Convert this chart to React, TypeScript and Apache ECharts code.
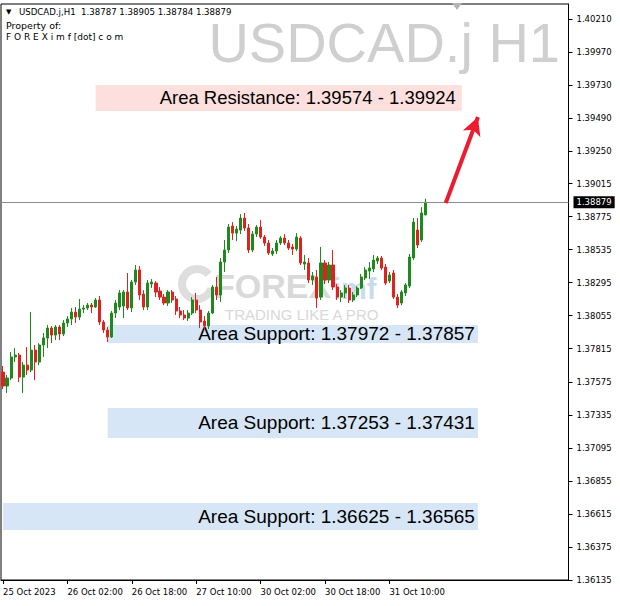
import React, { useEffect, useRef } from "react";
import * as echarts from "echarts";

// ---- data (H1 candles, USDCAD.j) ----
const opens = [
  1.37645, 1.37544, 1.37602, 1.37755, 1.37769, 1.37609, 1.37696, 1.37660, 1.37805, 1.37718,
  1.37842, 1.37893, 1.37965, 1.37914, 1.37973, 1.37922, 1.38002, 1.38031, 1.38081, 1.38045,
  1.38103, 1.38111, 1.38132, 1.38118, 1.38169, 1.38009, 1.37951, 1.37900, 1.38074, 1.38118,
  1.38125, 1.38227, 1.38111, 1.38299, 1.38387, 1.38212, 1.38118, 1.38285, 1.38292, 1.38234,
  1.38190, 1.38147, 1.38227, 1.38176, 1.38089, 1.38060, 1.38038, 1.38074, 1.38169, 1.38096,
  1.38016, 1.37980, 1.38074, 1.38263, 1.38205, 1.38445, 1.38532, 1.38706, 1.38655, 1.38677,
  1.38764, 1.38692, 1.38532, 1.38648, 1.38699, 1.38626, 1.38583, 1.38503, 1.38525, 1.38583,
  1.38619, 1.38583, 1.38554, 1.38539, 1.38619, 1.38430, 1.38438, 1.38314, 1.38336, 1.38190,
  1.38438, 1.38314, 1.38423, 1.38263, 1.38190, 1.38220, 1.38256, 1.38169, 1.38205, 1.38256,
  1.38329, 1.38379, 1.38394, 1.38452, 1.38474, 1.38408, 1.38307, 1.38365, 1.38190, 1.38147,
  1.38220, 1.38270, 1.38474, 1.38677, 1.38605, 1.38787,
];
const closes = [
  1.37544, 1.37602, 1.37755, 1.37769, 1.37609, 1.37696, 1.37660, 1.37805, 1.37718, 1.37842,
  1.37893, 1.37965, 1.37914, 1.37973, 1.37922, 1.38002, 1.38031, 1.38081, 1.38045, 1.38103,
  1.38111, 1.38132, 1.38118, 1.38169, 1.38009, 1.37951, 1.37900, 1.38074, 1.38147, 1.38220,
  1.38227, 1.38111, 1.38299, 1.38387, 1.38205, 1.38118, 1.38292, 1.38299, 1.38227, 1.38190,
  1.38147, 1.38227, 1.38169, 1.38089, 1.38060, 1.38038, 1.38074, 1.38169, 1.38096, 1.38009,
  1.37980, 1.38074, 1.38263, 1.38205, 1.38445, 1.38532, 1.38699, 1.38655, 1.38684, 1.38764,
  1.38692, 1.38532, 1.38648, 1.38699, 1.38626, 1.38583, 1.38510, 1.38525, 1.38583, 1.38619,
  1.38583, 1.38546, 1.38539, 1.38626, 1.38438, 1.38445, 1.38314, 1.38343, 1.38183, 1.38438,
  1.38314, 1.38423, 1.38263, 1.38190, 1.38220, 1.38256, 1.38169, 1.38205, 1.38256, 1.38336,
  1.38387, 1.38401, 1.38459, 1.38474, 1.38401, 1.38292, 1.38350, 1.38190, 1.38132, 1.38227,
  1.38278, 1.38481, 1.38735, 1.38568, 1.38801, 1.38879,
];
const lows = [
  1.37522, 1.37493, 1.37587, 1.37718, 1.37573, 1.37493, 1.37624, 1.37645, 1.37587, 1.37696,
  1.37755, 1.37820, 1.37856, 1.37878, 1.37878, 1.37907, 1.37973, 1.37987, 1.38002, 1.38023,
  1.38074, 1.38096, 1.38074, 1.38111, 1.37987, 1.37929, 1.37864, 1.37893, 1.38038, 1.38096,
  1.38038, 1.38096, 1.38081, 1.38278, 1.38169, 1.38096, 1.38096, 1.38256, 1.38190, 1.38169,
  1.38132, 1.38125, 1.38147, 1.38060, 1.38038, 1.38023, 1.38016, 1.38060, 1.38074, 1.37965,
  1.37958, 1.37958, 1.38067, 1.38169, 1.38154, 1.38372, 1.38510, 1.38605, 1.38597, 1.38648,
  1.38670, 1.38510, 1.38517, 1.38626, 1.38612, 1.38561, 1.38496, 1.38488, 1.38503, 1.38568,
  1.38568, 1.38532, 1.38496, 1.38525, 1.38423, 1.38387, 1.38292, 1.38278, 1.38111, 1.38169,
  1.38285, 1.38292, 1.38241, 1.38169, 1.38154, 1.38183, 1.38147, 1.38154, 1.38190, 1.38249,
  1.38314, 1.38321, 1.38372, 1.38430, 1.38387, 1.38278, 1.38292, 1.38176, 1.38111, 1.38132,
  1.38198, 1.38256, 1.38459, 1.38546, 1.38590, 1.38784,
];
const highs = [
  1.37689, 1.37624, 1.37791, 1.37820, 1.37784, 1.37718, 1.37827, 1.38081, 1.37842, 1.37856,
  1.37929, 1.37987, 1.37980, 1.37987, 1.37987, 1.38023, 1.38052, 1.38111, 1.38118, 1.38176,
  1.38132, 1.38147, 1.38147, 1.38183, 1.38198, 1.38023, 1.37973, 1.38089, 1.38169, 1.38241,
  1.38241, 1.38365, 1.38314, 1.38423, 1.38416, 1.38241, 1.38314, 1.38321, 1.38307, 1.38263,
  1.38212, 1.38241, 1.38241, 1.38198, 1.38118, 1.38096, 1.38096, 1.38190, 1.38220, 1.38132,
  1.38052, 1.38089, 1.38278, 1.38336, 1.38474, 1.38605, 1.38721, 1.38735, 1.38706, 1.38793,
  1.38801, 1.38721, 1.38670, 1.38713, 1.38750, 1.38641, 1.38605, 1.38546, 1.38605, 1.38633,
  1.38648, 1.38605, 1.38576, 1.38655, 1.38633, 1.38496, 1.38474, 1.38372, 1.38387, 1.38554,
  1.38459, 1.38445, 1.38532, 1.38285, 1.38241, 1.38278, 1.38278, 1.38227, 1.38270, 1.38358,
  1.38408, 1.38445, 1.38496, 1.38488, 1.38488, 1.38430, 1.38372, 1.38387, 1.38212, 1.38241,
  1.38292, 1.38503, 1.38764, 1.38764, 1.38844, 1.38905,
];

const yTickValues = [
  1.4021, 1.3997, 1.3973, 1.3949, 1.3925, 1.39015, 1.38775, 1.38535, 1.38295,
  1.38055, 1.37815, 1.37575, 1.37335, 1.37095, 1.36855, 1.36615, 1.36375, 1.36135,
];
const xTickIndex = [0, 16, 32, 48, 64, 80, 96];
const xTickLabels = [
  "25 Oct 2023", "26 Oct 02:00", "26 Oct 18:00", "27 Oct 10:00",
  "30 Oct 02:00", "30 Oct 18:00", "31 Oct 10:00",
];
const lastPrice = 1.38879;
const headerText = "USDCAD.j,H1  1.38787 1.38905 1.38784 1.38879";
const symbolTitle = "USDCAD.j H1";

// zones: label, start/end bar index, upper/lower price edge of the drawn box
const zoneLabels = [
  "Area Resistance: 1.39574 - 1.39924",
  "Area Support: 1.37972 - 1.37857",
  "Area Support: 1.37253 - 1.37431",
  "Area Support: 1.36625 - 1.36565",
];
const zoneStart = [23, 26, 26, 0];
const zoneEnd = [114, 118, 118, 118];
const zoneTop = [1.39731, 1.37988, 1.37385, 1.36695];
const zoneBottom = [1.39542, 1.37857, 1.37167, 1.36499];
const zoneKind = ["resistance", "support", "support", "support"];

// arrow (bar index, price)
const arrowFrom = [110, 1.38874];
const arrowTo = [118, 1.39498];

const SLOTS = 141;
const MONTHS = ["Jan", "Feb", "Mar", "Apr", "May", "Jun", "Jul", "Aug", "Sep", "Oct", "Nov", "Dec"];

function buildTimes(n: number): string[] {
  const out: string[] = [];
  let t = Date.UTC(2023, 9, 25, 10);
  while (out.length < n) {
    const d = new Date(t);
    const wd = d.getUTCDay();
    if (wd !== 0 && wd !== 6) {
      out.push(
        `${d.getUTCDate()} ${MONTHS[d.getUTCMonth()]} ${String(d.getUTCHours()).padStart(2, "0")}:00`
      );
    }
    t += 3600000;
  }
  return out;
}

const FONT = "DejaVu Sans";
const GREEN = "#1e8a1e";
const RED = "#e0221f";

export default function App() {
  const ref = useRef<HTMLDivElement>(null);
  useEffect(() => {
    if (!ref.current) return;
    const chart = echarts.init(ref.current, undefined, { renderer: "svg" });
    const times = buildTimes(SLOTS);
    const data = opens.map((o, i) => [o, closes[i], lows[i], highs[i]]);

    const areas = zoneLabels.map((lab, i) => {
      const isRes = zoneKind[i] === "resistance";
      return [
        {
          xAxis: zoneStart[i],
          yAxis: zoneTop[i],
          itemStyle: { color: isRes ? "#fde0dd" : "#d6e6f6" },
          label: {
            show: true,
            position: "insideRight",
            formatter: lab,
            color: "#000",
            fontSize: isRes ? 18.5 : 19,
            fontFamily: "Liberation Sans",
            distance: isRes ? 6 : 3,
          },
        },
        { xAxis: zoneEnd[i], yAxis: zoneBottom[i] },
      ];
    });

    const option: any = {
      animation: false,
      backgroundColor: "#ffffff",
      grid: {
        left: 1,
        top: 4,
        width: 567.5,
        height: 576,
        show: true,
        borderColor: "#000",
        borderWidth: 1,
        backgroundColor: "transparent",
      },
      xAxis: {
        type: "category",
        data: times,
        boundaryGap: true,
        axisLine: { show: true, lineStyle: { color: "#000", width: 1 } },
        axisTick: {
          show: true,
          alignWithLabel: true,
          interval: (i: number) => xTickIndex.includes(i),
          length: 4,
          lineStyle: { color: "#000" },
        },
        axisLabel: {
          interval: (i: number) => xTickIndex.includes(i),
          formatter: (_v: string, i: number) => {
            const k = xTickIndex.indexOf(i);
            return k >= 0 ? xTickLabels[k] : "";
          },
          align: "left",
          margin: 7,
          color: "#000",
          fontFamily: FONT,
          fontSize: 8.5,
        },
        splitLine: { show: false },
      },
      yAxis: {
        type: "value",
        position: "right",
        min: 1.36135,
        max: 1.40319,
        axisLine: { show: true, lineStyle: { color: "#000", width: 1 } },
        axisTick: {
          show: true,
          customValues: yTickValues,
          length: 4,
          lineStyle: { color: "#000" },
        },
        axisLabel: {
          customValues: yTickValues,
          formatter: (v: number) => v.toFixed(5),
          margin: 8,
          color: "#000",
          fontFamily: FONT,
          fontSize: 8.5,
        },
        splitLine: { show: false },
      },
      series: [
        {
          type: "candlestick",
          data,
          barWidth: 2.6,
          itemStyle: {
            color: GREEN,
            color0: RED,
            borderColor: GREEN,
            borderColor0: RED,
            borderWidth: 1,
          },
          markArea: {
            silent: true,
            data: areas,
          },
          markLine: {
            silent: true,
            precision: 5,
            symbol: ["none", "none"],
            label: { show: false },
            data: [
              {
                yAxis: lastPrice,
                lineStyle: { color: "#8c8c8c", width: 1, type: "solid" },
                label: {
                  show: true,
                  position: "end",
                  formatter: lastPrice.toFixed(5),
                  backgroundColor: "#000",
                  color: "#fff",
                  padding: [2, 3, 1, 3],
                  fontFamily: FONT,
                  fontSize: 8.5,
                  distance: 5,
                },
              },
              [
                {
                  coord: arrowFrom,
                  symbol: "none",
                  lineStyle: { color: "#ec1c30", width: 4, type: "solid" },
                },
                { coord: arrowTo, symbol: "arrow", symbolSize: [14, 18] },
              ],
            ],
          },
        },
      ],
      graphic: [
        {
          type: "group",
          z: 0,
          children: [
            {
              type: "text",
              x: 560,
              y: 42,
              style: {
                text: symbolTitle,
                fill: "#cfcfcf",
                font: "56px 'Liberation Sans'",
                align: "right",
                verticalAlign: "middle",
              },
            },
            {
              type: "arc",
              shape: { cx: 197, cy: 284, r: 15, startAngle: 0.3, endAngle: 5.6 },
              style: { stroke: "#dedede", lineWidth: 8, fill: "none" },
            },
            {
              type: "text",
              x: 214,
              y: 286,
              style: {
                text: "FOREX",
                fill: "#d9d9d9",
                font: "bold 34px 'Liberation Sans'",
                verticalAlign: "middle",
              },
            },
            {
              type: "text",
              x: 333,
              y: 289,
              style: {
                text: "imf",
                fill: "#c9dcee",
                font: "bold 29px 'Liberation Sans'",
                verticalAlign: "middle",
              },
            },
            {
              type: "text",
              x: 225,
              y: 314,
              style: {
                text: "TRADING LIKE A PRO",
                fill: "#d8d8d8",
                font: "15px 'Liberation Sans'",
                verticalAlign: "middle",
              },
            },
          ],
        },
        {
          type: "group",
          z: 10,
          children: [
            {
              type: "text",
              x: 6,
              y: 12,
              style: { text: "▼", fill: "#000", font: `7px '${FONT}'`, verticalAlign: "middle" },
            },
            {
              type: "text",
              x: 19,
              y: 12,
              style: { text: headerText, fill: "#000", font: `8.6px '${FONT}'`, verticalAlign: "middle" },
            },
            {
              type: "text",
              x: 6,
              y: 25,
              style: { text: "Property of:", fill: "#000", font: `9.5px '${FONT}'`, verticalAlign: "middle" },
            },
            {
              type: "text",
              x: 6,
              y: 37,
              style: {
                text: "F O R E X i m f [dot] c o m",
                fill: "#000",
                font: `9px '${FONT}'`,
                verticalAlign: "middle",
              },
            },
            {
              type: "polygon",
              shape: { points: [[452, 3], [462, 3], [457, 10]] },
              style: { fill: "#b4b4b4" },
            },
          ],
        },
      ],
    };
    chart.setOption(option);
    return () => chart.dispose();
  }, []);

  return (
    <div
      ref={ref}
      style={{ position: "fixed", left: 0, top: 0, width: 620, height: 606, background: "#fff" }}
    />
  );
}
